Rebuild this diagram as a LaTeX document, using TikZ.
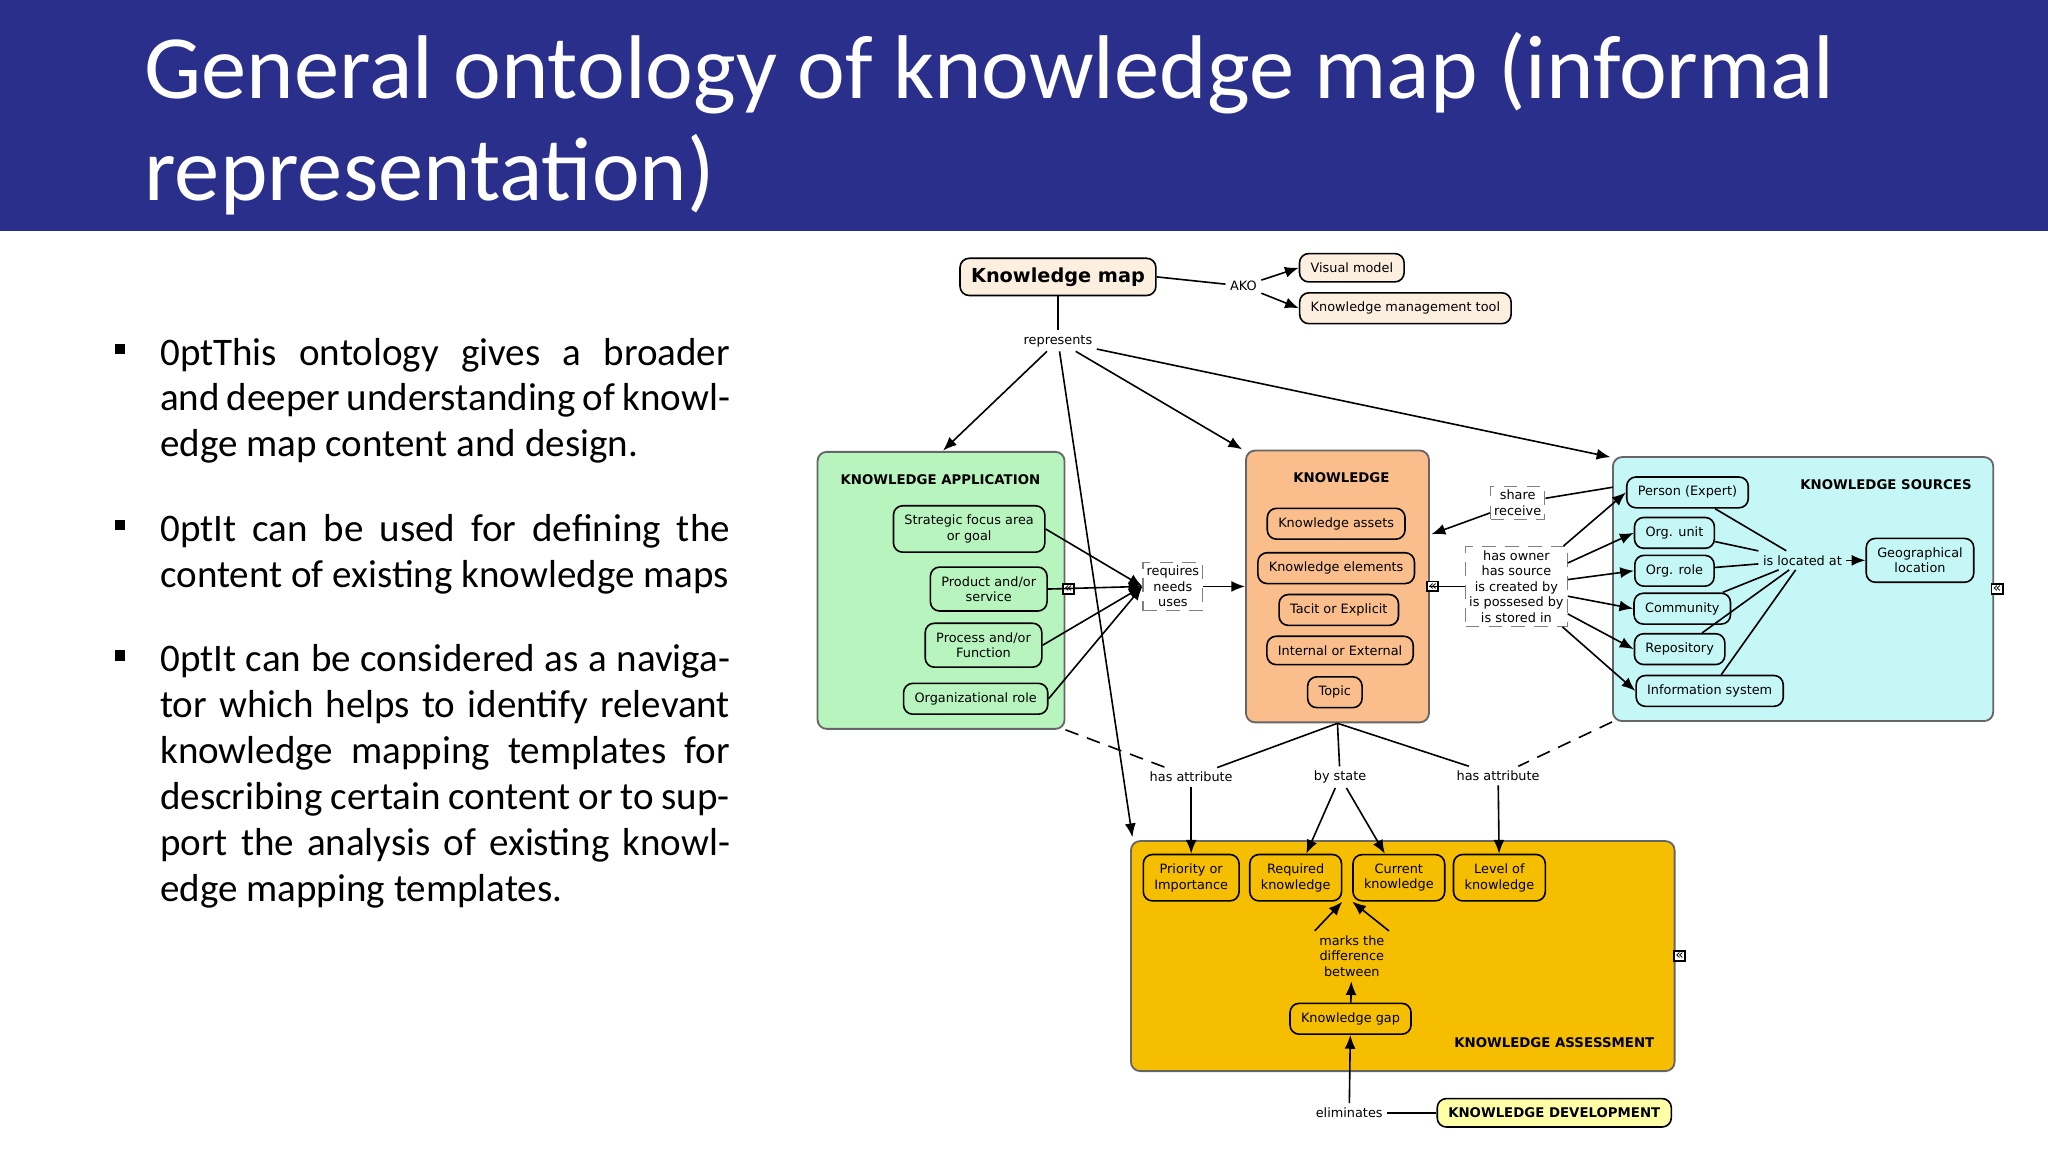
\documentclass[tikz,border=0pt]{standalone}
\usepackage{fontspec}
\setmainfont{Carlito}
\newfontfamily\diag{DejaVu Sans}
\usetikzlibrary{arrows.meta,positioning}
\definecolor{titleblue}{HTML}{2B2F8C}
\definecolor{appgreen}{HTML}{B8F5BE}
\definecolor{knorange}{HTML}{F9BE8C}
\definecolor{srccyan}{HTML}{C6F7F7}
\definecolor{assgold}{HTML}{F6BE00}
\definecolor{devyellow}{HTML}{FFFFA8}
\definecolor{mapcream}{HTML}{FCEFE0}
\tikzset{
  concept/.style={draw, rounded corners=2pt, font=\diag\fontsize{2.8}{3.4}\selectfont, align=center, inner xsep=2.4pt, inner ysep=2pt, line width=0.35pt},
  groupbox/.style={draw=black!60, rounded corners=2pt, line width=0.4pt},
  grouptitle/.style={font=\diag\bfseries\fontsize{2.9}{3.4}\selectfont},
  linklabel/.style={font=\diag\fontsize{2.8}{3.4}\selectfont, align=center, inner sep=0.8pt, fill=white},
  dashlabel/.style={linklabel, draw=black!50, densely dashed, line width=0.25pt},
  link/.style={line width=0.35pt},
  arr/.style={link, -{Latex[length=3pt,width=2.4pt]}},
  collapse/.style={draw, font=\diag\fontsize{3}{3}\selectfont, inner sep=0.3pt, fill=white}
}
\begin{document}
\begin{tikzpicture}[x=0.01cm,y=-0.01cm]
\useasboundingbox (0,0) rectangle (1568,882);
% title band
\fill[titleblue] (0,0) rectangle (1568,177);
\node[anchor=north west, text=white, font=\fontsize{19.7}{22.2}\selectfont, align=left, inner sep=0] (title) at (110,24)
  {General ontology of knowledge map (informal\\representation)};

% bullet text
\foreach \by/\txt [count=\i] in {258/{This ontology gives a broader and deeper understanding of knowledge map content and design.},
  393/{It can be used for defining the content of existing knowledge maps},
  493/{It can be considered as a navigator which helps to identify relevant knowledge mapping templates for describing certain content or to support the analysis of existing knowledge mapping templates.}}{
  \fill (88,\by+5) rectangle ++(8,8);
  \node[anchor=north west, inner sep=0, text width=4.36cm, align=justify, font=\fontsize{8.5}{10}\selectfont\lefthyphenmin=64\righthyphenmin=64] (para\i) at (122,\by) {\txt};
}

% group boxes
\node[groupbox, fill=appgreen, minimum width=1.89cm, minimum height=2.12cm] (app) at (720.5,452) {};
\node[grouptitle] at (720,367) {KNOWLEDGE APPLICATION};
\node[groupbox, fill=knorange, minimum width=1.40cm, minimum height=2.08cm] (know) at (1024,449) {};
\node[grouptitle] at (1027,366) {KNOWLEDGE};
\node[groupbox, fill=srccyan, minimum width=2.91cm, minimum height=2.02cm] (src) at (1380.5,451) {};
\node[grouptitle] at (1444,371) {KNOWLEDGE SOURCES};
\node[groupbox, fill=assgold, minimum width=4.16cm, minimum height=1.76cm] (assess) at (1074,732) {};
\node[grouptitle] at (1190,798) {KNOWLEDGE ASSESSMENT};

% top concepts
\node[concept, fill=mapcream, font=\diag\bfseries\fontsize{4.2}{5}\selectfont, minimum width=1.47cm, minimum height=0.28cm] (kmap) at (810,212) {Knowledge map};
\node[concept, fill=mapcream] (visual) at (1035,205) {Visual model};
\node[concept, fill=mapcream] (kmtool) at (1076,236) {Knowledge management tool};
\node[linklabel] (ako) at (952,219) {AKO};
\node[linklabel] (repr) at (810,261) {represents};

% application items
\node[concept, fill=appgreen] (goal) at (742,405) {Strategic focus area\\or goal};
\node[concept, fill=appgreen] (product) at (757,451) {Product and/or\\service};
\node[concept, fill=appgreen] (process) at (753,494) {Process and/or\\Function};
\node[concept, fill=appgreen] (orgrole) at (747,535) {Organizational role};
\node[dashlabel] (requires) at (898,449) {requires\\needs\\uses};

% knowledge items
\node[concept, fill=knorange] (assets) at (1023,401) {Knowledge assets};
\node[concept, fill=knorange] (elements) at (1023,435) {Knowledge elements};
\node[concept, fill=knorange] (tacit) at (1025,467) {Tacit or Explicit};
\node[concept, fill=knorange] (internal) at (1026,498) {Internal or External};
\node[concept, fill=knorange] (topic) at (1022,530) {Topic};

% source items
\node[dashlabel] (share) at (1162,385) {share\\receive};
\node[dashlabel] (owner) at (1161,449) {has owner\\has source\\is created by\\is possesed by\\is stored in};
\node[concept, fill=srccyan] (person) at (1292,377) {Person (Expert)};
\node[concept, fill=srccyan] (orgunit) at (1282,408) {Org. unit};
\node[concept, fill=srccyan] (orgr) at (1282,437) {Org. role};
\node[concept, fill=srccyan] (community) at (1288,466) {Community};
\node[concept, fill=srccyan] (repo) at (1286,497) {Repository};
\node[concept, fill=srccyan] (infosys) at (1309,529) {Information system};
\node[linklabel, fill=srccyan] (located) at (1380,429) {is located at};
\node[concept, fill=srccyan] (geo) at (1470,429) {Geographical\\location};

% assessment items
\node[linklabel] (attrl) at (912,595) {has attribute};
\node[linklabel] (state) at (1026,595) {by state};
\node[linklabel] (attrr) at (1147,594) {has attribute};
\node[concept, fill=assgold] (priority) at (912,672) {Priority or\\Importance};
\node[concept, fill=assgold] (required) at (992,672) {Required\\knowledge};
\node[concept, fill=assgold] (current) at (1071,672) {Current\\knowledge};
\node[concept, fill=assgold] (level) at (1148,672) {Level of\\knowledge};
\node[linklabel, fill=assgold] (marks) at (1035,732) {marks the\\difference\\between};
\node[concept, fill=assgold] (gap) at (1034,780) {Knowledge gap};
\node[concept, fill=devyellow, font=\diag\bfseries\fontsize{2.9}{3.4}\selectfont] (kdev) at (1190,852) {KNOWLEDGE DEVELOPMENT};
\node[linklabel] (elim) at (1033,852) {eliminates};

% collapse marks
\node[collapse] (c1) at (818,451) {\guillemotleft};
\node[collapse] (c2) at (1097,449) {\guillemotleft};
\node[collapse] (c3) at (1529,451) {\guillemotleft};
\node[collapse] (c4) at (1286,732) {\guillemotleft};

% connectors
\draw[link] (kmap.east) -- (ako);
\draw[arr] (ako) -- (visual.west);
\draw[arr] (ako) -- (kmtool.west);
\draw[link] (kmap) -- (repr);
\draw[arr] (repr) -- (722,345);
\draw[arr] (repr) -- (951,344);
\draw[arr] (repr) -- (1233,350);
\draw[arr] (repr) -- (867,641);
\foreach \n in {goal,product,process,orgrole}
  \draw[arr] (\n.east) -- (requires.west);
\draw[arr] (requires) -- (know.west |- requires);
\draw[arr] (share) -- (1096,409);
\draw[link] (share) -- (1235,373);
\draw[link] (1094,449) -- (owner);
\foreach \n in {person,orgunit,orgr,community,repo,infosys}
  \draw[arr] (owner) -- (\n.west);
\foreach \n in {person,orgunit,orgr,community,repo,infosys}
  \draw[link] (\n) -- (located);
\draw[arr] (located) -- (geo);
\draw[link] (know.south) -- (attrl);
\draw[link] (know.south) -- (state);
\draw[link] (know.south) -- (attrr);
\draw[link, densely dashed] (app.south east) -- (attrl);
\draw[link, densely dashed] (src.south west) -- (attrr);
\draw[arr] (attrl) -- (priority);
\draw[arr] (state) -- (required);
\draw[arr] (state) -- (current);
\draw[arr] (attrr) -- (level);
\draw[arr] (marks.north west) -- (required.south east);
\draw[arr] (marks.north east) -- (current.south west);
\draw[arr] (gap) -- (marks);
\draw[link] (kdev) -- (elim);
\draw[arr] (elim) -- (gap);
\end{tikzpicture}
\end{document}
